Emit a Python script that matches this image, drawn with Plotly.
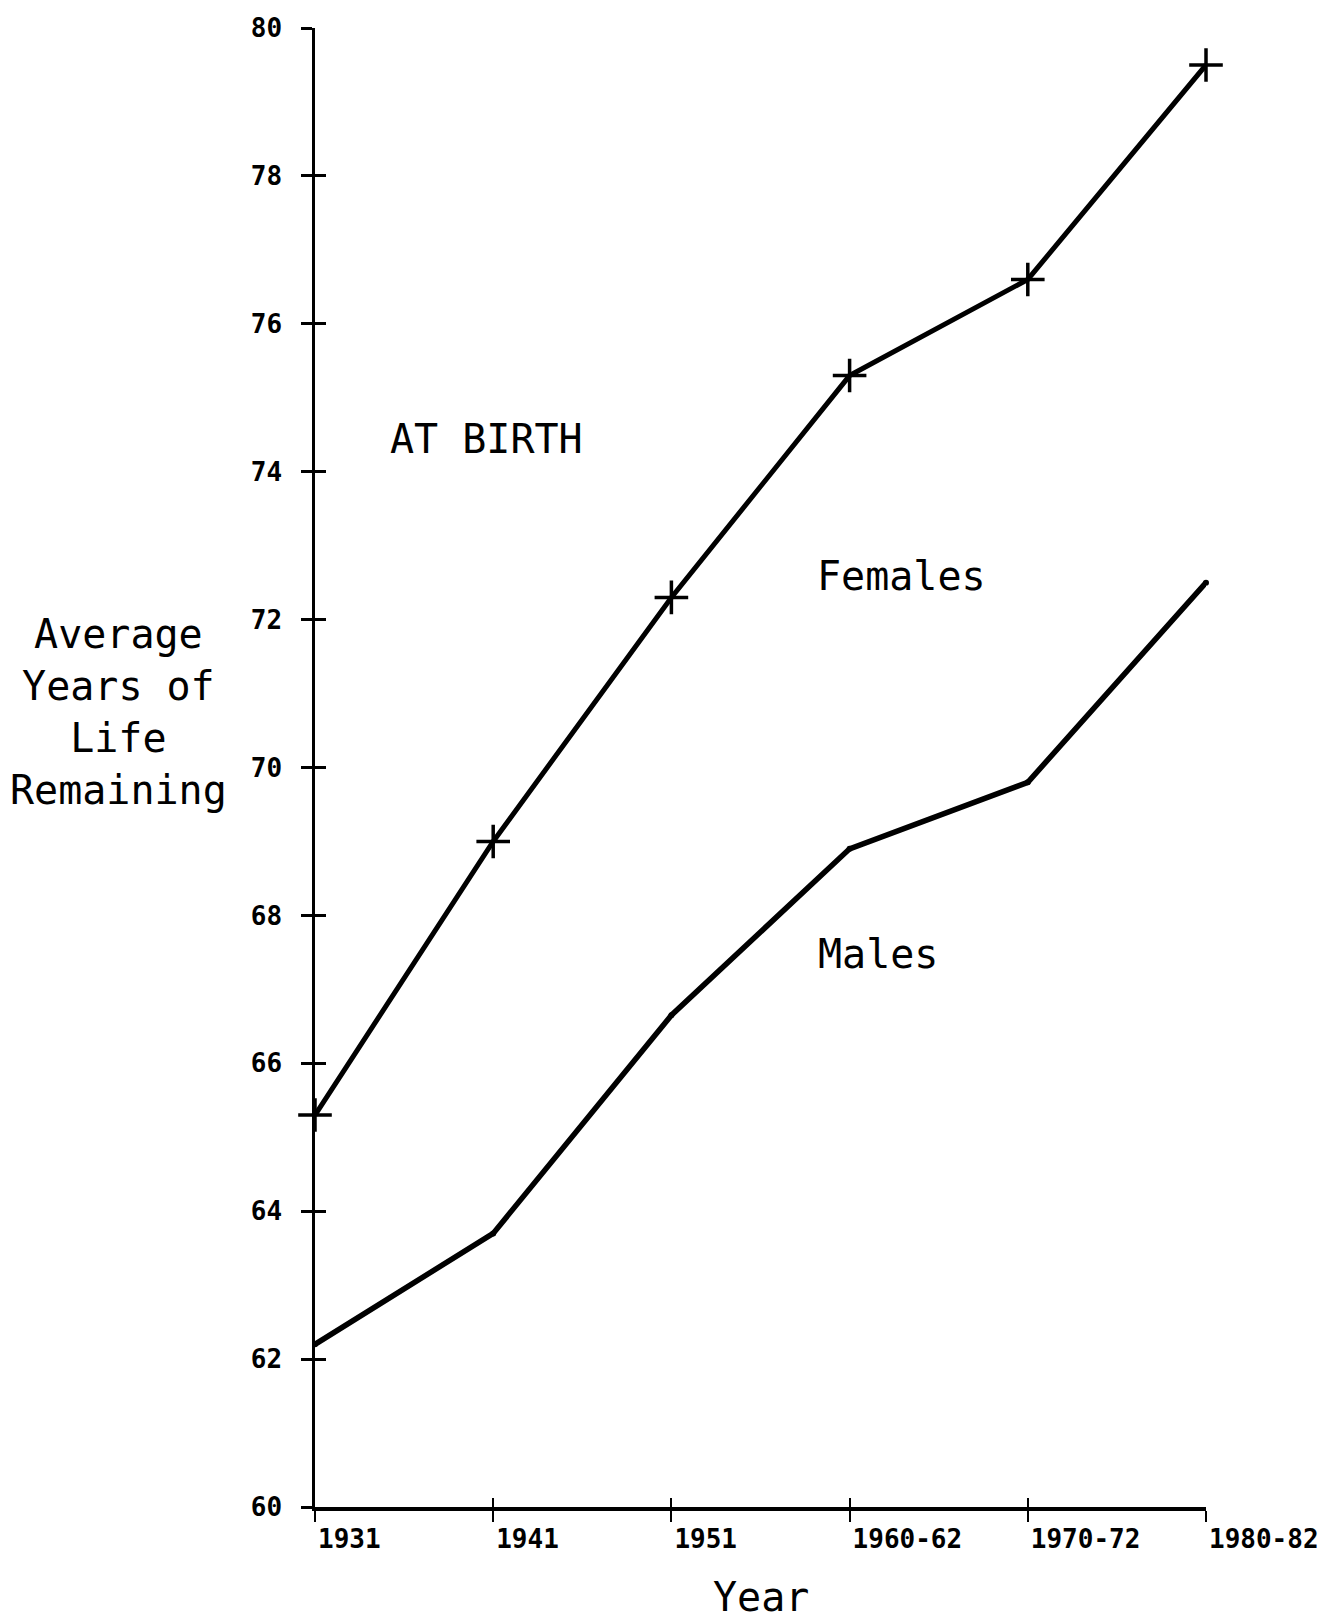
import plotly.graph_objects as go

years = ["1931", "1941", "1951", "1960-62", "1970-72", "1980-82"]
females = [65.3, 69.0, 72.3, 75.3, 76.6, 79.5]
males = [62.2, 63.7, 66.65, 68.9, 69.8, 72.5]
y_ticks = [60, 62, 64, 66, 68, 70, 72, 74, 76, 78, 80]

MONO = "DejaVu Sans Mono"

fig = go.Figure()
fig.add_trace(go.Scatter(
    x=years, y=females, mode="lines+markers", name="Females",
    line=dict(color="black", width=5),
    marker=dict(symbol="cross-thin", size=24, line=dict(color="black", width=3.5)),
    cliponaxis=False,
))
fig.add_trace(go.Scatter(
    x=years, y=males, mode="lines+markers", name="Males",
    line=dict(color="black", width=5.5),
    marker=dict(symbol="circle", size=6, color="black"),
    cliponaxis=False,
))

tickfont = dict(family=MONO, size=26, color="black", weight="bold")

fig.update_layout(
    width=1322, height=1621,
    margin=dict(l=315, r=116, t=28, b=114, autoexpand=False),
    paper_bgcolor="white", plot_bgcolor="white",
    showlegend=False,
    xaxis=dict(
        type="category", categoryorder="array", categoryarray=years,
        range=[0, 5], showgrid=False, zeroline=False, automargin=False,
        showline=True, linecolor="black", linewidth=4,
        ticks="outside", ticklen=11, tickwidth=2, tickcolor="black",
        tickfont=tickfont, ticklabelposition="outside right",
        ticklabelstandoff=6,
    ),
    xaxis2=dict(
        type="category", categoryorder="array", categoryarray=years,
        range=[0, 5], overlaying="x", side="bottom", anchor="y",
        showgrid=False, zeroline=False, showticklabels=False, automargin=False,
        ticks="inside", ticklen=9, tickwidth=2, tickcolor="black",
    ),
    yaxis=dict(
        range=[60, 80], tickvals=y_ticks, showgrid=False, zeroline=False,
        automargin=False,
        showline=True, linecolor="black", linewidth=2.5,
        ticks="outside", ticklen=11, tickwidth=2.5, tickcolor="black",
        tickfont=tickfont, ticklabelstandoff=14,
    ),
    yaxis2=dict(
        range=[60, 80], tickvals=y_ticks, overlaying="y", side="left",
        anchor="x", showgrid=False, zeroline=False, showticklabels=False,
        automargin=False,
        ticks="inside", ticklen=11, tickwidth=2.5, tickcolor="black",
    ),
)

# invisible trace to activate the overlay axes (crossing tick marks)
fig.add_trace(go.Scatter(x=years, y=males, xaxis="x2", yaxis="y2",
                         mode="none", hoverinfo="skip", showlegend=False))

textfont = dict(family=MONO, size=40, color="black")
common = dict(xref="paper", yref="paper", showarrow=False, font=textfont,
              xanchor="center", yanchor="middle")
fig.add_annotation(text="AT BIRTH", x=0.193, y=0.722, **common)
fig.add_annotation(text="Females", x=0.658, y=0.6295, **common)
fig.add_annotation(text="Males", x=0.632, y=0.374, **common)
fig.add_annotation(text="Average<br>Years of<br>Life<br>Remaining",
                   x=-0.22, y=0.5375, align="center", **common)
fig.add_annotation(text="Year", x=0.5, y=-0.061, **common)

fig.write_html("out.html",
               config={"displayModeBar": False},
               post_script="document.body.style.margin='0';document.body.style.overflow='hidden';")
